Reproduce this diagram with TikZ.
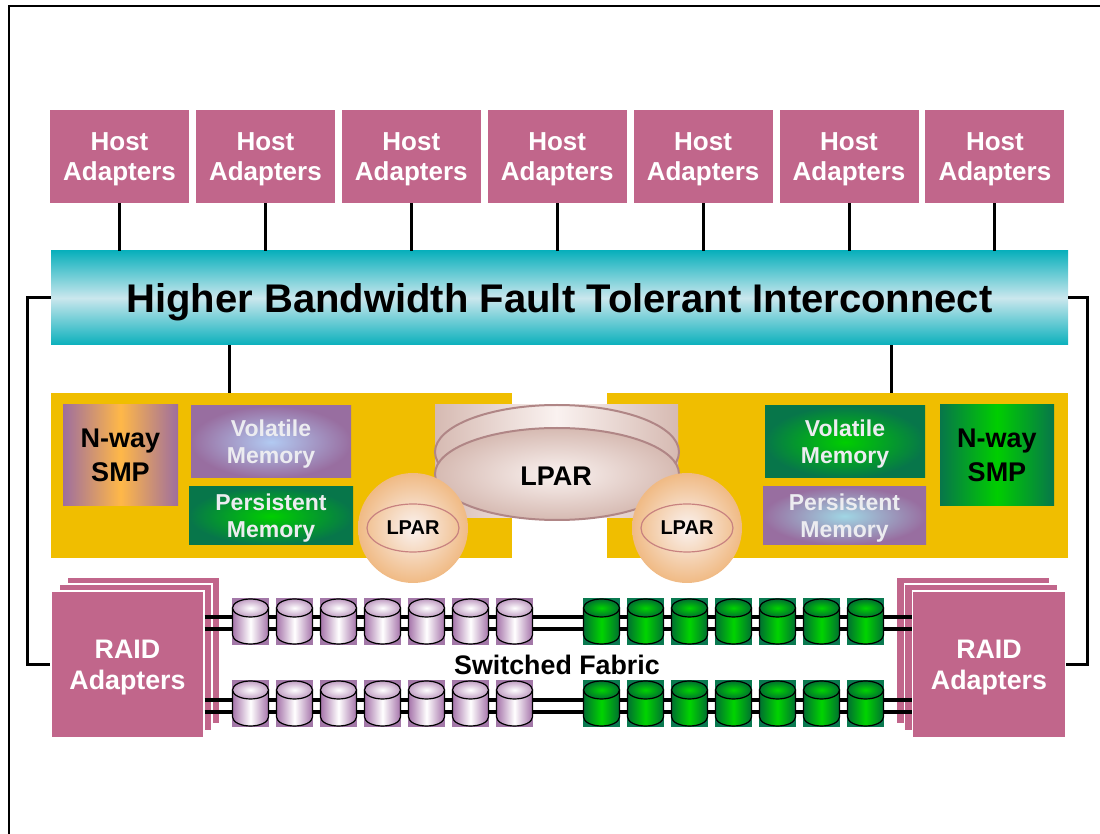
\documentclass[tikz,border=0pt]{standalone}
\usepackage{fontspec}
\setmainfont{Liberation Sans}

\definecolor{hostpink}{RGB}{193,102,139}
\definecolor{barteal}{RGB}{10,176,188}
\definecolor{barlight}{RGB}{202,231,237}
\definecolor{gold}{RGB}{240,190,0}
\definecolor{smppurple}{RGB}{158,110,158}
\definecolor{smporange}{RGB}{255,184,72}
\definecolor{mempurple}{RGB}{152,110,160}
\definecolor{memblue}{RGB}{178,202,242}
\definecolor{memcyan}{RGB}{160,214,228}
\definecolor{memdark}{RGB}{7,118,74}
\definecolor{memgreen}{RGB}{0,206,0}
\definecolor{memtext}{RGB}{236,236,240}
\definecolor{lparedge}{RGB}{214,186,178}
\definecolor{lparlight}{RGB}{250,242,240}
\definecolor{lparline}{RGB}{176,134,134}
\definecolor{ballline}{RGB}{200,130,128}
\definecolor{peach}{RGB}{240,186,132}
\definecolor{disktile}{RGB}{163,120,168}
\definecolor{diskpurple}{RGB}{166,116,170}
\definecolor{greentile}{RGB}{10,122,80}
\definecolor{diskgreen}{RGB}{0,112,48}
\definecolor{diskbright}{RGB}{0,212,0}

% one drive: tile behind, body, lid
\newcommand{\drum}[3]{%
  \fill[#3tile] (#1,#2) rectangle ++(37,47);
  \draw[disk,#3body] (#1+0.5,#2+10) -- (#1+0.5,#2+37)
    arc[start angle=180,end angle=0,x radius=18,y radius=9] -- (#1+36.5,#2+10) -- cycle;
  \draw[disk,#3lid] (#1+18.5,#2+10) ellipse[x radius=18,y radius=9];
}

\begin{document}
\begin{tikzpicture}[x=0.5pt,y=-0.5pt]
    \tikzstyle{every node}=[font=\bfseries, align=center, inner sep=1pt, text depth=0pt]
    \tikzstyle{host}=[fill=hostpink, text=white, minimum width=69.5pt, minimum height=46.5pt, font=\bfseries\fontsize{13}{15}\selectfont]
    \tikzstyle{raid}=[fill=hostpink, draw=white, line width=0.6pt, minimum width=76.5pt, minimum height=73.5pt, font=\bfseries\fontsize{13.4}{15.5}\selectfont]
    \tikzstyle{board}=[fill=gold, minimum width=230.5pt, minimum height=82.5pt]
    \tikzstyle{smp}=[minimum width=57.5pt, minimum height=50.5pt, font=\bfseries\fontsize{13.5}{17}\selectfont]
    \tikzstyle{mem}=[text=memtext, minimum height=36pt, font=\bfseries\fontsize{11.5}{13.5}\selectfont]
    \tikzstyle{wire}=[line width=1.5pt]
    \tikzstyle{rail}=[line width=2.2pt]
    \tikzstyle{disk}=[line width=0.6pt]
    \tikzstyle{purpletile}=[fill=disktile]
    \tikzstyle{purplebody}=[left color=diskpurple, right color=diskpurple, middle color=white]
    \tikzstyle{purplelid}=[inner color=white, outer color=diskpurple!70!white]
    \tikzstyle{greentile}=[fill=greentile]
    \tikzstyle{greenbody}=[left color=diskgreen, right color=diskgreen, middle color=diskbright]
    \tikzstyle{greenlid}=[inner color=diskbright, outer color=diskgreen]

    \useasboundingbox (0,0) rectangle (1100,834);
    \draw[line width=1pt] (9,834) -- (9,6) -- (1100,6);

    % host adapters and the interconnect
    \foreach \i in {1,...,7}
        \node[host] (h\i) at (119.5+145.9*\i-145.9,156.5) {Host\\Adapters};
    \node[top color=barteal, bottom color=barteal, middle color=barlight,
          minimum width=508.5pt, minimum height=47pt,
          font=\bfseries\fontsize{20}{24}\selectfont] (bus) at (559.5,298)
        {Higher Bandwidth Fault Tolerant Interconnect};
    \foreach \i in {1,...,7}
        \draw[wire] (h\i.south) -- (h\i.south |- bus.north);

    % the two processor boards
    \node[board] (boardL) at (281.5,475.5) {};
    \node[board] (boardR) at (837.5,475.5) {};
    \coordinate (tapL) at (229,393);
    \coordinate (tapR) at (891,393);
    \draw[wire] (tapL) -- (tapL |- bus.south);
    \draw[wire] (tapR) -- (tapR |- bus.south);

    \node[smp, left color=smppurple, right color=smppurple, middle color=smporange] (smpL) at (120.5,455.5) {N-way\\SMP};
    \node[mem, minimum width=80pt, inner color=memblue, outer color=mempurple] (volL) at (271,442) {Volatile\\Memory};
    \node[mem, minimum width=82pt, minimum height=29pt, inner color=memgreen, outer color=memdark] (perL) at (271,516) {Persistent\\Memory};
    \node[mem, minimum width=80pt, inner color=memgreen, outer color=memdark] (volR) at (845,442) {Volatile\\Memory};
    \node[mem, minimum width=81.5pt, minimum height=29pt, inner color=memcyan, outer color=mempurple] (perR) at (844.5,516) {Persistent\\Memory};
    \node[smp, minimum width=57pt, left color=memdark, right color=memdark, middle color=memgreen] (smpR) at (997,455.5) {N-way\\SMP};

    % stacked partitions in the middle
    \shade[left color=lparedge, right color=lparedge, middle color=lparlight] (435,405) rectangle (678,518);
    \shade[left color=lparedge, right color=lparedge, middle color=lparlight] (435,428) rectangle (678,518);
    \draw[lparline, line width=1pt] (557,452) ellipse[x radius=122, y radius=47];
    \draw[lparline, line width=1pt, inner color=lparlight, outer color=lparedge] (557,474) ellipse[x radius=122, y radius=46];
    \node[font=\bfseries\fontsize{13.5}{15}\selectfont] (lpar) at (556,476) {LPAR};

    \node[circle, minimum size=55pt, inner color=lparlight, outer color=peach] (ballL) at (413,528) {};
    \node[circle, minimum size=55pt, inner color=lparlight, outer color=peach] (ballR) at (687,528) {};
    \draw[ballline, line width=0.6pt] (ballL) ellipse[x radius=46, y radius=24];
    \draw[ballline, line width=0.6pt] (ballR) ellipse[x radius=46, y radius=24];
    \node[font=\bfseries\fontsize{10}{11}\selectfont] at (ballL) {LPAR};
    \node[font=\bfseries\fontsize{10}{11}\selectfont] at (ballR) {LPAR};

    % RAID adapters, stacked three deep
    \node[raid] at (143.5,650.5) {};
    \node[raid] at (135.5,657.5) {};
    \node[raid] at (973,650.5) {};
    \node[raid] at (981,657.5) {};

    \coordinate (railA) at (0,617);
    \coordinate (railB) at (0,629);
    \coordinate (railC) at (0,700);
    \coordinate (railD) at (0,712);
    \node[raid, text=white] (raidL) at (127.5,664.5) {RAID\\Adapters};
    \node[raid, text=white] (raidR) at (989,664.5) {RAID\\Adapters};
    \foreach \r in {railA,railB,railC,railD}
        \draw[rail] (raidL.east |- \r) -- (raidR.west |- \r);

    \draw[wire] (bus.west) -- ++(-23,0) |- (raidL.west);
    \draw[wire] (bus.east) -- ++(19,0) |- (raidR.east);

    % drives on the switched fabric
    \foreach \k in {0,...,6} {
        \drum{232+44*\k}{598}{purple}
        \drum{232+44*\k}{680}{purple}
        \drum{583+44*\k}{598}{green}
        \drum{583+44*\k}{680}{green}
    }
    \node[font=\bfseries\fontsize{13.4}{15}\selectfont] (fabric) at (557,665) {Switched Fabric};
\end{tikzpicture}
\end{document}
